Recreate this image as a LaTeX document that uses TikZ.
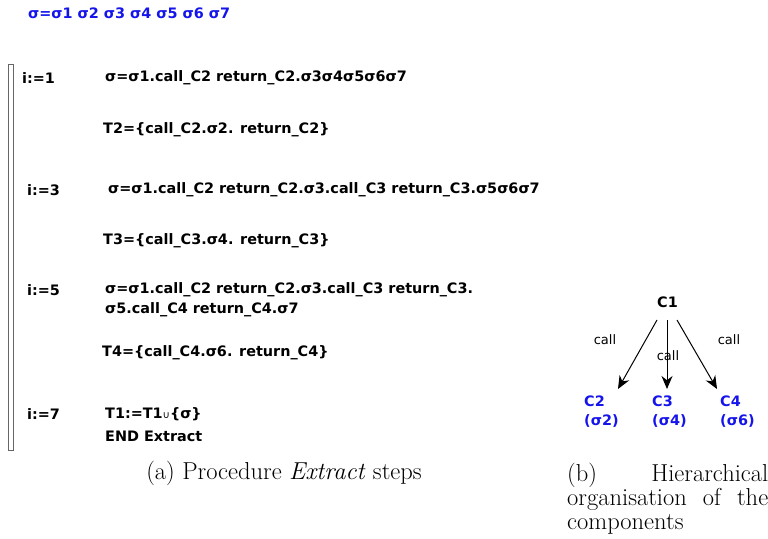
\documentclass[tikz,border=0pt]{standalone}
\usepackage{fontspec}
\setsansfont{DejaVu Sans}
\usetikzlibrary{arrows.meta}
\definecolor{sigblue}{RGB}{20,20,235}
\begin{document}
\begin{tikzpicture}[x=1pt,y=-1pt,
  txt/.style={anchor=west,inner sep=0pt,font=\sffamily\bfseries\fontsize{14.4}{20}\selectfont},
  bluetxt/.style={txt,text=sigblue},
  comp/.style={anchor=north west,inner sep=0pt,align=left,text=sigblue,font=\sffamily\bfseries\fontsize{14.4}{19}\selectfont},
  lbl/.style={inner sep=0pt,font=\sffamily\fontsize{13}{15}\selectfont},
  captext/.style={inner sep=0pt,font=\fontsize{24.5}{24}\selectfont},
  arr/.style={-{Stealth[length=13pt,width=11pt]},line width=1pt}]
\useasboundingbox (0,0) rectangle (768,538);
\node[bluetxt] (seq) at (28,13) {σ=σ1 σ2 σ3 σ4 σ5 σ6 σ7};
\draw[draw=gray!80!black,line width=1pt] (8,64) rectangle (13,450);
\node[txt] (i1) at (22,78) {i:=1};
\node[txt] (s1) at (105,78) {σ=σ1.call\_C2 return\_C2.σ3σ4σ5σ6σ7};
\node[txt] (t2) at (103,130) {T2=\{call\_C2.σ2. return\_C2\}};
\node[txt] (i3) at (27,190) {i:=3};
\node[txt] (s3) at (108,190) {σ=σ1.call\_C2 return\_C2.σ3.call\_C3 return\_C3.σ5σ6σ7};
\node[txt] (t3) at (103,241) {T3=\{call\_C3.σ4. return\_C3\}};
\node[txt] (i5) at (27,290) {i:=5};
\node[txt] (s5) at (105,290) {σ=σ1.call\_C2 return\_C2.σ3.call\_C3 return\_C3.};
\node[txt] (s5b) at (105,310) {σ5.call\_C4 return\_C4.σ7};
\node[txt] (t4) at (102,353) {T4=\{call\_C4.σ6. return\_C4\}};
\node[txt] (i7) at (27,414) {i:=7};
\node[txt] (t1) at (105,414) {T1:=T1{\mdseries\fontsize{10}{12}\selectfont ∪}\{σ\}};
\node[txt] (end) at (105,436) {END Extract};
\node[captext] (capa) at (284,473) {(a) Procedure \textit{Extract} steps};
\node[txt] (c1) at (657,302) {C1};
\node[comp] (c2) at (584,396) {C2\\(σ2)};
\node[comp] (c3) at (652,396) {C3\\(σ4)};
\node[comp] (c4) at (720,396) {C4\\(σ6)};
\coordinate (o2) at (657,320);
\coordinate (o3) at (667,320);
\coordinate (o4) at (677,320);
\draw[arr] (o2) -- (618,389) coordinate (e2);
\draw[arr] (o3) -- (667,389) coordinate (e3);
\draw[arr] (o4) -- (717,389) coordinate (e4);
\node[lbl] (l2) at (605,340) {call};
\node[lbl] (l3) at (668,356) {call};
\node[lbl] (l4) at (729,340) {call};
\node[captext,anchor=north west,text width=201pt,align=justify] (capb) at (567,463) {(b) \mbox{Hierarchical} \mbox{organisation} of the \mbox{components}};
\end{tikzpicture}
\end{document}
